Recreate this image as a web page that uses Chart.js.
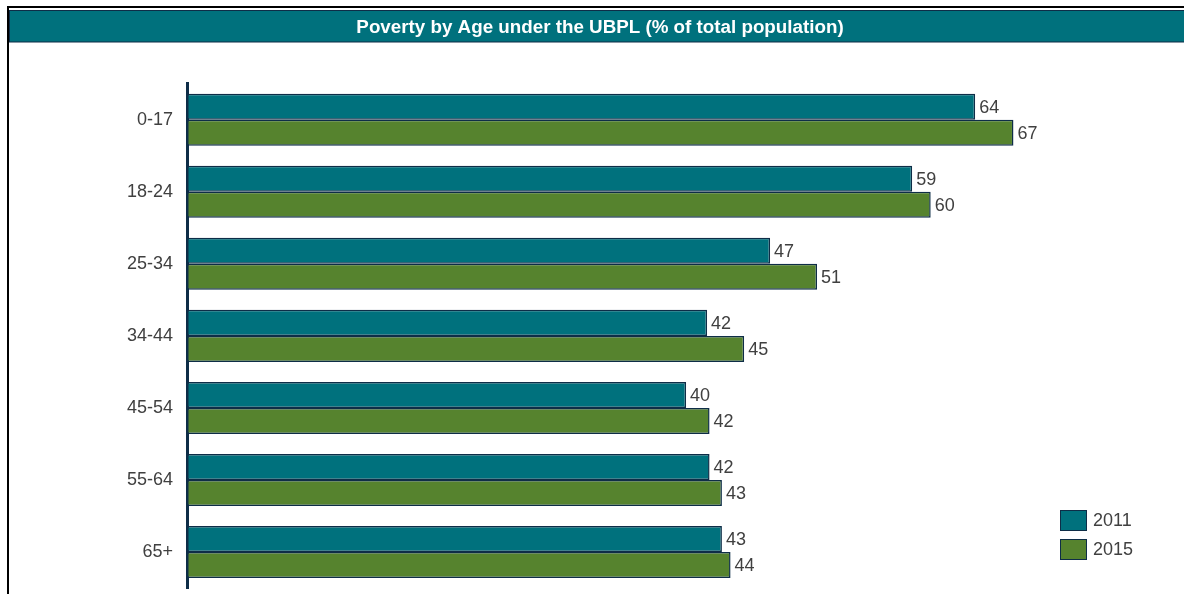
<!DOCTYPE html>
<html>
<head>
<meta charset="utf-8">
<script src="https://cdn.jsdelivr.net/npm/chart.js@4/dist/chart.umd.min.js"></script>
<style>
  html, body { margin: 0; padding: 0; background: #ffffff; overflow: hidden; }
  #wrap { position: relative; width: 1200px; height: 594px; }
  #legend { position: absolute; left: 1060px; top: 510px; font-family: "Liberation Sans", Arial, sans-serif; font-size: 18px; color: #404040; }
  .item { display: flex; align-items: center; height: 21px; margin-bottom: 8px; white-space: nowrap; }
  .box { width: 27px; height: 21px; box-sizing: border-box; border: 1.5px solid #0e2d47; margin-right: 6px; }
</style>
</head>
<body>
<div id="wrap">
  <canvas id="c" width="1200" height="594"></canvas>
  <div id="legend"></div>
</div>
<script>
const titleText = "Poverty by Age under the UBPL (% of total population)";
const categories = ["0-17", "18-24", "25-34", "34-44", "45-54", "55-64", "65+"];
const seriesNames = ["2011", "2015"];
const values2011 = [63.8, 58.7, 47.2, 42.1, 40.4, 42.3, 43.3];
const values2015 = [66.9, 60.2, 51.0, 45.1, 42.3, 43.3, 44.0];
const xMax = 82;
const colors = ["#00717d", "#56832e"];
const borderColor = "#0e2d47";
const textColor = "#404040";
const fontFamily = "'Liberation Sans', Arial, sans-serif";

const frameAndTitleBar = {
  id: 'frameAndTitleBar',
  beforeDraw(chart) {
    const ctx = chart.ctx;
    ctx.save();
    ctx.strokeStyle = '#000000';
    ctx.lineWidth = 2;
    ctx.strokeRect(8, 7, 1184, 640);
    ctx.fillStyle = colors[0];
    ctx.fillRect(9.5, 10.5, 1181, 31.5);
    ctx.strokeStyle = borderColor;
    ctx.lineWidth = 1;
    ctx.strokeRect(9.5, 10.5, 1181, 31.5);
    ctx.restore();
  }
};

const valueLabels = {
  id: 'valueLabels',
  afterDatasetsDraw(chart) {
    const ctx = chart.ctx;
    ctx.save();
    ctx.font = "18px " + fontFamily;
    ctx.fillStyle = textColor;
    ctx.textAlign = 'left';
    ctx.textBaseline = 'middle';
    chart.data.datasets.forEach((ds, di) => {
      const meta = chart.getDatasetMeta(di);
      meta.data.forEach((el, i) => {
        ctx.fillText(String(Math.round(ds.data[i])), el.x + 4, el.y + 1);
      });
    });
    ctx.restore();
  }
};

const chart = new Chart(document.getElementById('c'), {
  type: 'bar',
  data: {
    labels: categories,
    datasets: [
      { label: seriesNames[0], data: values2011, backgroundColor: colors[0], borderColor: borderColor, borderWidth: 1.5, borderSkipped: false },
      { label: seriesNames[1], data: values2015, backgroundColor: colors[1], borderColor: borderColor, borderWidth: 1.5, borderSkipped: false }
    ]
  },
  options: {
    indexAxis: 'y',
    responsive: false,
    animation: false,
    events: [],
    datasets: { bar: { categoryPercentage: 52 / 72, barPercentage: 1 } },
    layout: { padding: { left: 0, right: 0, top: 0, bottom: 6 } },
    scales: {
      x: { display: false, min: 0, max: xMax },
      y: {
        z: 1,
        grid: { display: false, drawTicks: false },
        border: { display: true, color: borderColor, width: 3 },
        ticks: { color: textColor, padding: 14, font: { family: fontFamily, size: 18 } },
        afterFit(scale) {
          scale.width = 187;
          scale.paddingTop = 0;
          scale.paddingBottom = 0;
        }
      }
    },
    plugins: {
      legend: { display: false },
      tooltip: { enabled: false },
      title: {
        display: true,
        text: titleText,
        color: '#ffffff',
        font: { family: fontFamily, size: 18.8, weight: 'bold', lineHeight: 1.2 },
        padding: { top: 16.6, bottom: 44.6 }
      }
    }
  },
  plugins: [frameAndTitleBar, valueLabels]
});

const legendEl = document.getElementById('legend');
chart.data.datasets.forEach((ds) => {
  const item = document.createElement('div');
  item.className = 'item';
  const box = document.createElement('span');
  box.className = 'box';
  box.style.background = ds.backgroundColor;
  const txt = document.createElement('span');
  txt.textContent = ds.label;
  item.appendChild(box);
  item.appendChild(txt);
  legendEl.appendChild(item);
});
</script>
</body>
</html>
